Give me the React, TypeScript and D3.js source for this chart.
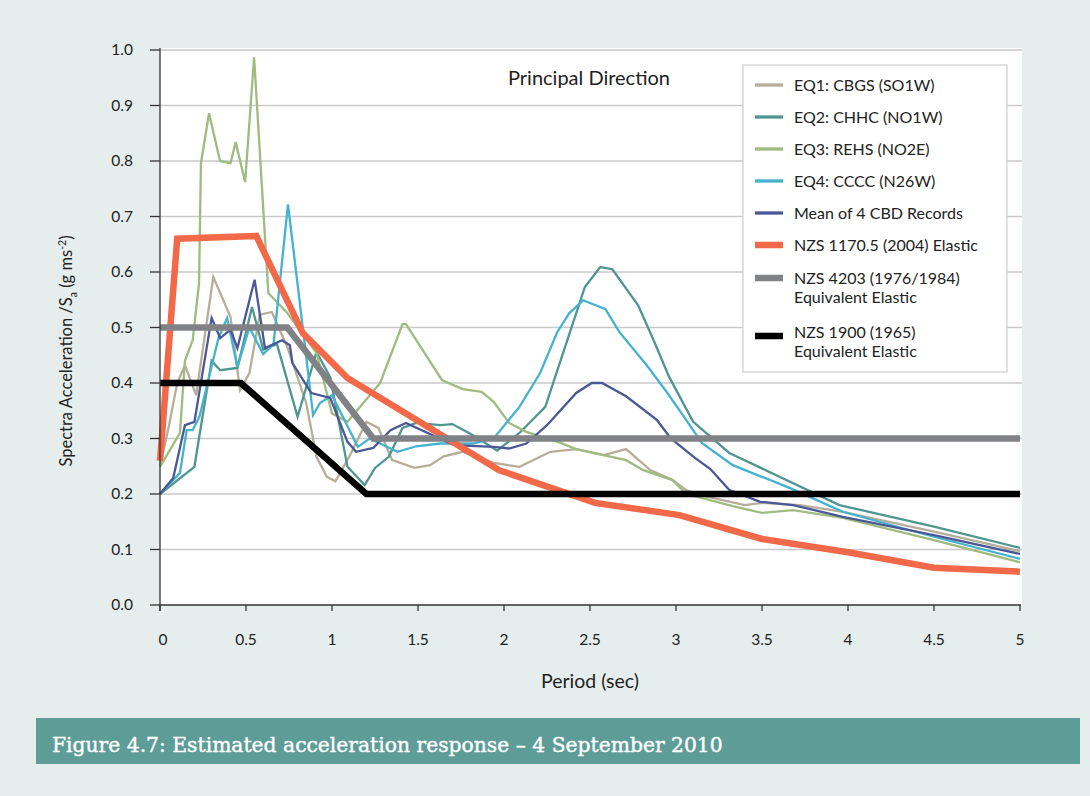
import React from "react";
import * as d3 from "d3";

// ---------- data ----------
const eq1T = [0, 0.05, 0.1, 0.145, 0.21, 0.31, 0.41, 0.465, 0.52, 0.58, 0.65, 0.74, 0.85, 0.91, 0.97, 1.02, 1.1, 1.2, 1.27, 1.35, 1.48, 1.57, 1.65, 1.76, 1.94, 2.09, 2.27, 2.42, 2.58, 2.71, 2.85, 2.98, 3.06, 3.14, 3.4, 3.5, 3.72, 3.97, 4.5, 5.0];
const eq1S = [0.25, 0.32, 0.4, 0.432, 0.378, 0.591, 0.519, 0.387, 0.418, 0.523, 0.528, 0.465, 0.364, 0.267, 0.231, 0.223, 0.267, 0.33, 0.319, 0.261, 0.247, 0.252, 0.268, 0.276, 0.256, 0.249, 0.276, 0.281, 0.27, 0.281, 0.243, 0.225, 0.207, 0.198, 0.18, 0.184, 0.18, 0.168, 0.132, 0.097];

const eq2T = [0, 0.2, 0.3, 0.35, 0.45, 0.535, 0.6, 0.68, 0.8, 0.91, 0.99, 1.09, 1.19, 1.25, 1.33, 1.41, 1.49, 1.63, 1.7, 1.82, 1.96, 2.09, 2.24, 2.35, 2.47, 2.56, 2.63, 2.78, 2.87, 2.96, 3.1, 3.31, 3.95, 4.5, 5.0];
const eq2S = [0.2, 0.249, 0.44, 0.423, 0.427, 0.537, 0.46, 0.47, 0.339, 0.456, 0.41, 0.249, 0.216, 0.247, 0.267, 0.319, 0.328, 0.324, 0.326, 0.306, 0.278, 0.31, 0.357, 0.46, 0.573, 0.609, 0.605, 0.54, 0.477, 0.411, 0.33, 0.274, 0.18, 0.141, 0.103];

const eq3T = [0, 0.116, 0.145, 0.19, 0.227, 0.238, 0.285, 0.349, 0.41, 0.44, 0.495, 0.547, 0.63, 0.74, 0.91, 1.0, 1.09, 1.28, 1.41, 1.43, 1.64, 1.76, 1.87, 1.94, 2.03, 2.13, 2.33, 2.42, 2.71, 2.81, 2.98, 3.06, 3.33, 3.5, 3.68, 3.97, 4.5, 5.0];
const eq3S = [0.249, 0.31, 0.44, 0.477, 0.58, 0.796, 0.886, 0.8, 0.796, 0.834, 0.762, 0.987, 0.562, 0.526, 0.454, 0.345, 0.33, 0.4, 0.506, 0.506, 0.405, 0.389, 0.384, 0.366, 0.328, 0.312, 0.292, 0.281, 0.261, 0.243, 0.225, 0.2, 0.178, 0.166, 0.171, 0.157, 0.117, 0.077];

const eq4T = [0, 0.116, 0.155, 0.19, 0.23, 0.34, 0.39, 0.45, 0.52, 0.6, 0.66, 0.744, 0.83, 0.89, 0.93, 1.0, 1.15, 1.22, 1.38, 1.49, 1.63, 1.82, 1.94, 2.09, 2.21, 2.31, 2.38, 2.46, 2.59, 2.67, 2.83, 2.95, 3.06, 3.15, 3.33, 3.66, 3.97, 4.5, 5.0];
const eq4S = [0.2, 0.238, 0.315, 0.315, 0.34, 0.481, 0.517, 0.429, 0.5, 0.452, 0.47, 0.722, 0.5, 0.342, 0.364, 0.378, 0.285, 0.3, 0.276, 0.286, 0.291, 0.291, 0.3, 0.357, 0.418, 0.492, 0.526, 0.549, 0.533, 0.492, 0.432, 0.382, 0.333, 0.292, 0.252, 0.211, 0.168, 0.123, 0.083];

const meanT = [0, 0.077, 0.145, 0.2, 0.3, 0.35, 0.41, 0.45, 0.55, 0.61, 0.71, 0.755, 0.77, 0.88, 0.99, 1.09, 1.14, 1.24, 1.34, 1.43, 1.71, 1.94, 2.03, 2.13, 2.25, 2.42, 2.51, 2.57, 2.71, 2.89, 2.97, 3.11, 3.2, 3.31, 3.49, 3.68, 3.97, 4.5, 5.0];
const meanS = [0.2, 0.229, 0.324, 0.33, 0.517, 0.481, 0.496, 0.463, 0.586, 0.463, 0.477, 0.468, 0.436, 0.382, 0.373, 0.294, 0.276, 0.283, 0.315, 0.328, 0.288, 0.285, 0.282, 0.291, 0.324, 0.382, 0.4, 0.4, 0.376, 0.333, 0.3, 0.265, 0.245, 0.207, 0.186, 0.18, 0.159, 0.126, 0.092];

const nzs1170T = [0, 0.1, 0.56, 0.83, 1.09, 1.97, 2.53, 3.02, 3.5, 4.0, 4.5, 5.0];
const nzs1170S = [0.26, 0.66, 0.665, 0.49, 0.409, 0.243, 0.184, 0.162, 0.119, 0.095, 0.067, 0.06];

const nzs4203T = [0, 0.74, 1.24, 5.0];
const nzs4203S = [0.5, 0.5, 0.3, 0.3];

const nzs1900T = [0, 0.47, 1.2, 5.0];
const nzs1900S = [0.4, 0.4, 0.2, 0.2];

const seriesNames = [
  ["EQ1: CBGS (SO1W)"],
  ["EQ2: CHHC (NO1W)"],
  ["EQ3: REHS (NO2E)"],
  ["EQ4: CCCC (N26W)"],
  ["Mean of 4 CBD Records"],
  ["NZS 1170.5 (2004) Elastic"],
  ["NZS 4203 (1976/1984)", "Equivalent Elastic"],
  ["NZS 1900 (1965)", "Equivalent Elastic"],
];
const seriesColors = ["#b6ae99", "#4f9690", "#9fbb80", "#45b2d0", "#4a5896", "#f2694a", "#808285", "#000000"];
const seriesWidths = [2.3, 2.3, 2.3, 2.3, 2.3, 6.5, 6.5, 6.5];
const seriesT = [eq1T, eq2T, eq3T, eq4T, meanT, nzs1170T, nzs4203T, nzs1900T];
const seriesS = [eq1S, eq2S, eq3S, eq4S, meanS, nzs1170S, nzs4203S, nzs1900S];

const yTicks = [0, 0.1, 0.2, 0.3, 0.4, 0.5, 0.6, 0.7, 0.8, 0.9, 1.0];
const xTicks = [0, 0.5, 1, 1.5, 2, 2.5, 3, 3.5, 4, 4.5, 5];

const FONT = "Lato, 'Noto Sans', sans-serif";

export default function App() {
  const W = 1090, H = 796;
  const x = d3.scaleLinear().domain([0, 5]).range([160, 1020]);
  const y = d3.scaleLinear().domain([0, 1]).range([605, 50]);
  const line = d3.line<[number, number]>().x(d => x(d[0])).y(d => y(d[1]));

  const legendRows = [85, 117, 149, 181, 213, 245, 278, 336];

  return (
    <svg width={W} height={H} style={{ position: "absolute", left: 0, top: 0 }} fontFamily={FONT}>
      <rect x={0} y={0} width={W} height={H} fill="#e5eeec" />
      {/* plot area */}
      <rect x={160} y={48} width={862} height={557} fill="#ffffff" />
      {/* grid */}
      {yTicks.filter(t => t > 0).map(t => (
        <line key={"g" + t} x1={160} x2={1022} y1={y(t)} y2={y(t)} stroke="#c9c9c9" strokeWidth={1.5} />
      ))}
      {/* series */}
      {seriesT.map((ts, i) => (
        <path
          key={"s" + i}
          d={line(ts.map((t, j) => [t, seriesS[i][j]] as [number, number])) || ""}
          fill="none"
          stroke={seriesColors[i]}
          strokeWidth={seriesWidths[i]}
          strokeLinejoin="miter"
        />
      ))}
      {/* axes */}
      <line x1={160} x2={160} y1={48} y2={611} stroke="#333" strokeWidth={1.3} />
      <line x1={160} x2={1021} y1={605} y2={605} stroke="#333" strokeWidth={1.3} />
      {yTicks.map(t => (
        <g key={"yt" + t}>
          <line x1={150} x2={160} y1={y(t)} y2={y(t)} stroke="#333" strokeWidth={1.3} />
          <text x={133} y={y(t)} dy="0.35em" textAnchor="end" fontSize={15.5} fill="#222">{t.toFixed(1)}</text>
        </g>
      ))}
      {xTicks.map(t => (
        <g key={"xt" + t}>
          <line x1={x(t)} x2={x(t)} y1={605} y2={611} stroke="#333" strokeWidth={1.3} />
          <text x={x(t) + (t === 0 ? 3 : 0)} y={645} textAnchor="middle" fontSize={15.5} fill="#222">{t}</text>
        </g>
      ))}
      {/* axis titles */}
      <text x={590} y={688} textAnchor="middle" fontSize={19.5} fill="#222">Period (sec)</text>
      <text transform="translate(72,351) rotate(-90)" textAnchor="middle" fontSize={16.5} fill="#222">
        Spectra Acceleration /S<tspan fontSize={10.5} dy={5}>a</tspan><tspan dy={-5}> (g ms</tspan>
        <tspan fontSize={10.5} dy={-6}>-2</tspan><tspan dy={6}>)</tspan>
      </text>
      <text x={589} y={85} textAnchor="middle" fontSize={20} fill="#222">Principal Direction</text>
      {/* legend */}
      <rect x={743} y={65} width={264} height={307} fill="#ffffff" stroke="#d2d2d2" strokeWidth={1.3} />
      {seriesNames.map((names, i) => (
        <g key={"lg" + i}>
          <line x1={755} x2={783} y1={legendRows[i]} y2={legendRows[i]} stroke={seriesColors[i]}
            strokeWidth={i < 5 ? 3.3 : 6.5} />
          {names.map((n, k) => (
            <text key={k} x={794} y={(i === 7 ? legendRows[i] - 4 : legendRows[i]) + k * 19} dy="0.35em"
              fontSize={16} fill="#222">{n}</text>
          ))}
        </g>
      ))}
      {/* caption */}
      <rect x={36} y={718} width={1044} height={46} fill="#5d9c97" />
      <text x={52} y={752} fontFamily="'DejaVu Serif', serif" fontSize={20.3} fill="#ffffff"
        stroke="#ffffff" strokeWidth={0.4}>
        Figure 4.7: Estimated acceleration response – 4 September 2010
      </text>
    </svg>
  );
}
